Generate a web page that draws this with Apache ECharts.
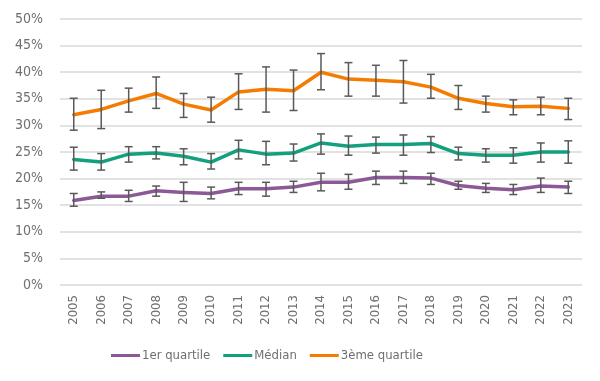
<!DOCTYPE html>
<html>
<head>
<meta charset="utf-8">
<script src="https://cdn.jsdelivr.net/npm/echarts@6/dist/echarts.min.js"></script>
<style>html,body{margin:0;padding:0;background:#fff}#c{width:600px;height:381px}</style>
</head>
<body>
<div id="c"></div>
<script>
var years = ['2005','2006','2007','2008','2009','2010','2011','2012','2013','2014','2015','2016','2017','2018','2019','2020','2021','2022','2023'];
var yTicks = [0,5,10,15,20,25,30,35,40,45,50];

var q1 = [15.9,16.7,16.7,17.7,17.4,17.2,18.1,18.1,18.4,19.3,19.3,20.2,20.2,20.1,18.7,18.2,17.9,18.6,18.4];
var q1Low = [14.8,16.3,15.7,16.7,15.7,16.2,17.0,16.7,17.4,17.7,18.0,18.9,19.1,18.9,18.0,17.4,17.0,17.4,17.2];
var q1High = [17.2,17.5,17.8,18.6,19.3,18.4,19.3,19.3,19.5,21.0,20.8,21.4,21.4,21.0,19.5,19.1,18.9,20.1,19.5];

var med = [23.6,23.1,24.6,24.8,24.2,23.1,25.4,24.6,24.8,26.7,26.1,26.4,26.4,26.6,24.7,24.4,24.4,25.0,25.0];
var medLow = [21.6,21.6,23.1,23.7,22.6,21.8,23.7,22.6,23.3,24.6,24.4,24.8,24.4,24.9,23.5,23.1,22.9,23.1,22.9];
var medHigh = [25.9,24.7,26.0,26.0,25.6,24.7,27.2,27.0,26.5,28.4,28.0,27.8,28.2,27.9,25.9,25.6,25.8,26.7,27.1];

var q3 = [32.0,33.0,34.6,36.0,34.0,32.9,36.3,36.8,36.5,40.0,38.7,38.5,38.2,37.2,35.1,34.1,33.5,33.6,33.2];
var q3Low = [29.1,29.4,32.5,33.2,31.5,30.6,33.0,32.5,32.8,36.7,35.5,35.5,34.2,35.1,33.0,32.5,32.0,32.0,31.1];
var q3High = [35.1,36.6,37.0,39.1,36.0,35.3,39.7,41.0,40.4,43.5,41.8,41.3,42.2,39.6,37.5,35.5,34.8,35.3,35.1];

var names = ['1er quartile','Médian','3ème quartile'];
var colors = ['#8b5a96','#12a07e','#f57c00'];
var FONT = '"DejaVu Sans Condensed", "Liberation Sans Narrow", sans-serif';

function errData(lo, hi){ return years.map(function(y,i){ return [i, lo[i], hi[i]]; }); }
function renderErr(params, api){
  var x = api.value(0);
  var lo = api.coord([x, api.value(1)]);
  var hi = api.coord([x, api.value(2)]);
  var hw = 4;
  var st = {stroke:'#595959', lineWidth:1.5};
  return {type:'group', children:[
    {type:'line', shape:{x1:lo[0],y1:lo[1],x2:hi[0],y2:hi[1]}, style:st},
    {type:'line', shape:{x1:lo[0]-hw,y1:lo[1],x2:lo[0]+hw,y2:lo[1]}, style:st},
    {type:'line', shape:{x1:hi[0]-hw,y1:hi[1],x2:hi[0]+hw,y2:hi[1]}, style:st}
  ]};
}
function lineSeries(name, data, color){
  return {name:name, type:'line', data:data, symbol:'none', z:2,
    lineStyle:{color:color, width:3.5, cap:'round', join:'round'}, itemStyle:{color:color}};
}
function errSeries(lo, hi){
  return {type:'custom', renderItem:renderErr, data:errData(lo,hi), z:5, silent:true,
    encode:{x:0, y:[1,2]}};
}

var chart = echarts.init(document.getElementById('c'), null, {renderer:'canvas'});
chart.setOption({
  animation:false,
  color:colors,
  textStyle:{fontFamily:FONT},
  grid:{left:60, right:18, top:19, bottom:96},
  legend:{
    data:names.map(function(n){return {name:n, icon:'rect'};}),
    left:106, top:344, itemWidth:29, itemHeight:3, itemGap:13,
    textStyle:{fontFamily:FONT, fontSize:13, color:'#6f6f6f', padding:[0,0,0,-3]}
  },
  xAxis:{type:'category', data:years, boundaryGap:true,
    axisLine:{show:false}, axisTick:{show:false},
    axisLabel:{rotate:90, margin:10, fontSize:13, color:'#6f6f6f', fontFamily:FONT}},
  yAxis:{type:'value', min:0, max:50, interval:5,
    axisLine:{show:false}, axisTick:{show:false},
    splitLine:{lineStyle:{color:'#d9d9d9', width:1.5}},
    axisLabel:{margin:17, fontSize:14, color:'#6f6f6f', fontFamily:FONT,
      formatter:function(v){ return yTicks.indexOf(v)>=0 ? v+'%' : ''; }}},
  series:[
    lineSeries(names[0], q1, colors[0]),
    lineSeries(names[1], med, colors[1]),
    lineSeries(names[2], q3, colors[2]),
    errSeries(q1Low, q1High),
    errSeries(medLow, medHigh),
    errSeries(q3Low, q3High)
  ]
});
</script>
</body>
</html>
